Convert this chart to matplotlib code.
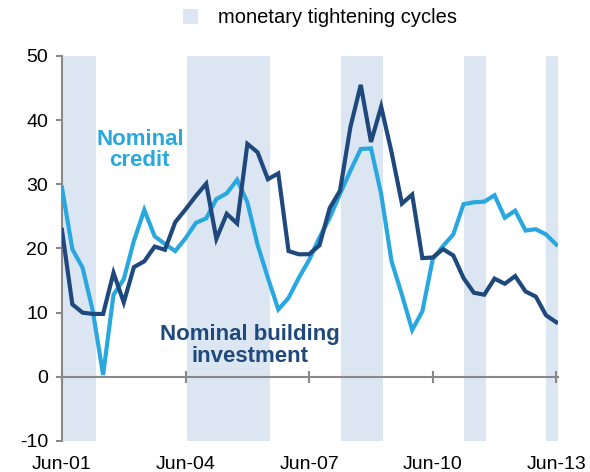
import matplotlib
matplotlib.use('Agg')
import matplotlib.pyplot as plt
from matplotlib.patches import Patch
import pandas as pd

# Colores
DARK = '#1F497D'
LIGHT = '#29A8E0'
SHADE = '#DCE6F2'
AXIS_GREY = '#898989'

plt.rcParams['font.family'] = ['Liberation Sans', 'DejaVu Sans']

# Datos (trimestrales, Jun-01 a Jun-13)
dates = pd.date_range('2001-06-01', periods=49, freq='3MS')
building = [22.9, 11.3, 10.0, 9.8, 9.8, 16.2, 11.6, 17.1, 18.0, 20.3,
            19.8, 24.1, 26.1, 28.2, 30.1, 21.5, 25.4, 23.9, 36.3, 35.0,
            30.8, 31.7, 19.6, 19.1, 19.1, 20.5, 26.3, 29.0, 38.9, 45.5,
            36.6, 42.1, 35.0, 27.0, 28.4, 18.5, 18.6, 19.9, 18.9, 15.4,
            13.1, 12.8, 15.3, 14.5, 15.7, 13.3, 12.5, 9.6, 8.5]
credit = [29.5, 19.9, 17.0, 10.3, 0.3, 12.8, 15.2, 21.2, 26.0, 21.9,
          20.7, 19.6, 21.6, 24.0, 24.7, 27.7, 28.6, 30.7, 27.2, 20.6,
          15.4, 10.5, 12.3, 15.4, 18.2, 21.7, 24.8, 28.5, 32.1, 35.5,
          35.6, 28.5, 18.0, 12.8, 7.3, 10.2, 18.3, 20.4, 22.2, 26.9,
          27.2, 27.3, 28.3, 24.8, 25.9, 22.8, 23.0, 22.2, 20.6]

# Ciclos de endurecimiento monetario
cycle_starts = ['2001-06-01', '2004-06-10', '2008-03-06', '2011-03-03', '2013-03-02']
cycle_ends = ['2002-03-28', '2006-06-18', '2009-03-13', '2011-09-15', '2013-06-17']

tick_dates = ['2001-06-01', '2004-06-01', '2007-06-01', '2010-06-01', '2013-06-01']
tick_labels = ['Jun-01', 'Jun-04', 'Jun-07', 'Jun-10', 'Jun-13']
y_ticks = [-10, 0, 10, 20, 30, 40, 50]

fig = plt.figure(figsize=(5.9, 4.72), dpi=100)
ax = fig.add_axes([0.105, 0.0657, 0.841, 0.8157])

for s, e in zip(cycle_starts, cycle_ends):
    ax.axvspan(pd.Timestamp(s), pd.Timestamp(e), color=SHADE, lw=0, zorder=0)

ax.plot(dates, credit, color=LIGHT, lw=3.0, zorder=3, solid_joinstyle='miter')
ax.plot(dates, building, color=DARK, lw=3.0, zorder=3, solid_joinstyle='miter')

ax.set_xlim(pd.Timestamp('2001-06-01'), pd.Timestamp('2013-06-17'))
ax.set_ylim(-10, 50)

# Ejes
for side in ['top', 'right']:
    ax.spines[side].set_visible(False)
ax.spines['left'].set_color(AXIS_GREY)
ax.spines['left'].set_linewidth(1.5)
ax.spines['bottom'].set_position(('data', 0))
ax.spines['bottom'].set_color(AXIS_GREY)
ax.spines['bottom'].set_linewidth(1.5)
ax.spines['bottom'].set_zorder(2)

ax.set_yticks(y_ticks)
ax.set_yticklabels([str(v) for v in y_ticks])
ax.set_xticks(pd.to_datetime(tick_dates))
ax.set_xticklabels(tick_labels)
ax.tick_params(axis='y', direction='out', length=4, width=1.5, color=AXIS_GREY,
               labelsize=14, pad=6)
ax.tick_params(axis='x', direction='inout', length=8, width=1.5, color=AXIS_GREY,
               labelsize=14, pad=53)

# Etiquetas de las series
ax.text(0.157, 0.756, 'Nominal\ncredit', transform=ax.transAxes, ha='center',
        va='center', color=LIGHT, fontsize=16, fontweight='bold', linespacing=1.05)
ax.text(0.379, 0.247, 'Nominal building\ninvestment', transform=ax.transAxes,
        ha='center', va='center', color=DARK, fontsize=16, fontweight='bold',
        linespacing=1.05)

# Leyenda
handles = [Patch(facecolor=SHADE, edgecolor='none')]
fig.legend(handles, ['monetary tightening cycles'], loc='center',
           bbox_to_anchor=(0.543, 0.962), frameon=False, fontsize=14.5,
           handlelength=0.75, handleheight=0.75, handletextpad=1.0)

plt.savefig('out.png', dpi=100)
plt.close()
